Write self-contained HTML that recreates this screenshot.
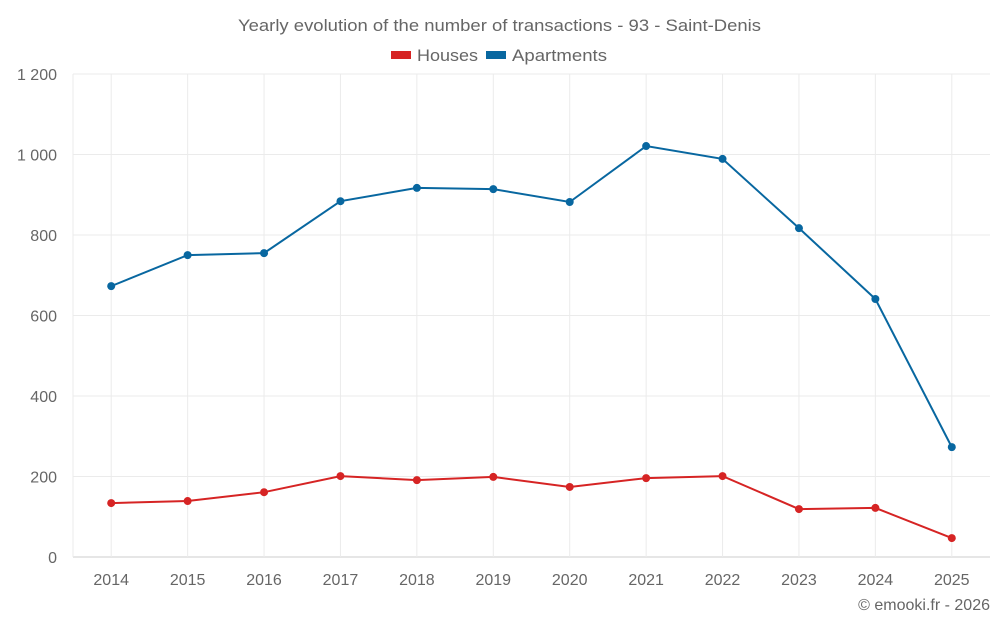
<!DOCTYPE html>
<html><head><meta charset="utf-8"><style>
body{margin:0;background:#fff;font-family:"Liberation Sans",sans-serif}
svg text{font-family:"Liberation Sans",sans-serif;fill:#666}
</style></head><body>
<svg id="chart" width="1000" height="625">
<text x="238" y="31" font-size="17" textLength="523" lengthAdjust="spacingAndGlyphs">Yearly evolution of the number of transactions - 93 - Saint-Denis</text>
<g>
<g><rect x="391" y="51" width="20" height="8" fill="#d62424"/><text x="417" y="61" font-size="17" textLength="61" lengthAdjust="spacingAndGlyphs">Houses</text></g>
<g><rect x="486" y="51" width="20" height="8" fill="#0867a0"/><text x="512" y="61" font-size="17" textLength="95" lengthAdjust="spacingAndGlyphs">Apartments</text></g>
</g>
<g id="grid"></g><g id="axes"></g><g id="series"></g>
<text x="990" y="610" text-anchor="end" font-size="16">© emooki.fr - 2026</text>
</svg>
<script>
const categories=["2014","2015","2016","2017","2018","2019","2020","2021","2022","2023","2024","2025"];
const houses=[134,139,161,201,191,199,174,196,201,119,122,47];
const apartments=[673,750,755,884,917,914,882,1021,989,817,641,273];
const yTicks=[0,200,400,600,800,1000,1200];
const yTickLabels=["0","200","400","600","800","1 000","1 200"];
const L=73,R=990,T=74,B=557,yMax=1200;
const NS="http://www.w3.org/2000/svg";
const bw=(R-L)/categories.length;
const x=i=>L+bw*(i+0.5);
const y=v=>B-(v/yMax)*(B-T);
function mk(tag,attrs,parent){const e=document.createElementNS(NS,tag);for(const k in attrs)e.setAttribute(k,attrs[k]);parent.appendChild(e);return e;}
const grid=document.getElementById('grid'),axes=document.getElementById('axes'),series=document.getElementById('series');
yTicks.forEach((t,i)=>{
 const ln=mk('line',{x1:L,x2:R,y1:y(t),y2:y(t),stroke:i==0?'#ccc':'#ebebeb','stroke-width':1},grid);
 
 
 const tx=mk('text',{x:57,y:y(t)+6,'text-anchor':'end','font-size':16},axes);
 tx.textContent=yTickLabels[i];
 
 
});
mk('line',{x1:L,x2:L,y1:T,y2:B,stroke:'#ebebeb'},grid);
categories.forEach((c,i)=>{
 const ln=mk('line',{x1:x(i),x2:x(i),y1:T,y2:B,stroke:'#ebebeb'},grid);
 
 
 const tx=mk('text',{x:x(i),y:585,'text-anchor':'middle','font-size':16},axes);
 tx.textContent=c;
 
 
});
function draw(vals,color,name){
 const p=mk('polyline',{points:vals.map((v,i)=>x(i)+','+y(v)).join(' '),fill:'none',stroke:color,'stroke-width':2},series);
 
 
 vals.forEach((v,i)=>{
  const c=mk('circle',{cx:x(i),cy:y(v),r:4,fill:color},series);
  
  
 });
}
draw(apartments,'#0867a0','apartments');
draw(houses,'#d62424','houses');
</script>
</body></html>
